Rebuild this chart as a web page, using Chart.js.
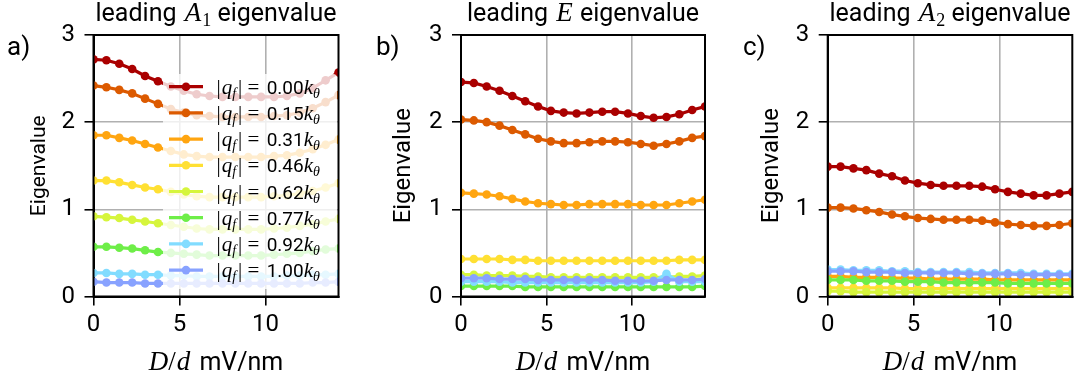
<!DOCTYPE html>
<html>
<head>
<meta charset="utf-8">
<script src="https://cdn.jsdelivr.net/npm/chart.js@4"></script>
<style>
  body { margin: 0; background: #fff; }
  .panel { position: absolute; top: 0; }
</style>
</head>
<body>
<canvas id="panelA" class="panel" style="left:0px" width="360" height="384"></canvas>
<canvas id="panelE" class="panel" style="left:360px" width="360" height="384"></canvas>
<canvas id="panelA2" class="panel" style="left:720px" width="361" height="384"></canvas>
<script>
// D/d sample points (mV/nm)
const xVals = [0, 0.75, 1.5, 2.25, 3, 3.75, 4.5, 5.25, 6, 6.75, 7.5, 8.25, 9, 9.75, 10.5, 11.25, 12, 12.75, 13.5, 14.25];
const xTicks = [0, 5, 10];
const yTicks = [0, 1, 2, 3];
const qLabels = ['0.00', '0.15', '0.31', '0.46', '0.62', '0.77', '0.92', '1.00'];
const colors = ['#aa0000', '#dc5a00', '#ffa510', '#ffe033', '#d6f53c', '#6eee48', '#82dcff', '#88a2ff'];

// leading A1 eigenvalue
const a1_000 = [2.72, 2.71, 2.67, 2.61, 2.53, 2.47, 2.41, 2.36, 2.32, 2.30, 2.29, 2.29, 2.29, 2.29, 2.29, 2.30, 2.33, 2.39, 2.48, 2.57];
const a1_015 = [2.42, 2.40, 2.37, 2.33, 2.27, 2.21, 2.15, 2.11, 2.08, 2.07, 2.06, 2.06, 2.06, 2.06, 2.07, 2.08, 2.11, 2.16, 2.23, 2.31];
const a1_031 = [1.85, 1.85, 1.82, 1.79, 1.75, 1.71, 1.67, 1.63, 1.61, 1.60, 1.60, 1.60, 1.60, 1.60, 1.61, 1.62, 1.65, 1.69, 1.74, 1.80];
const a1_046 = [1.33, 1.33, 1.31, 1.28, 1.25, 1.23, 1.20, 1.17, 1.15, 1.14, 1.14, 1.14, 1.14, 1.14, 1.15, 1.16, 1.18, 1.21, 1.25, 1.30];
const a1_062 = [0.92, 0.91, 0.90, 0.88, 0.86, 0.84, 0.82, 0.80, 0.78, 0.77, 0.77, 0.77, 0.77, 0.77, 0.78, 0.79, 0.81, 0.83, 0.86, 0.89];
const a1_077 = [0.57, 0.57, 0.56, 0.55, 0.53, 0.51, 0.50, 0.49, 0.48, 0.47, 0.47, 0.47, 0.47, 0.47, 0.48, 0.49, 0.50, 0.52, 0.54, 0.55];
const a1_092 = [0.27, 0.27, 0.26, 0.26, 0.25, 0.25, 0.24, 0.24, 0.23, 0.23, 0.23, 0.23, 0.23, 0.23, 0.23, 0.24, 0.24, 0.25, 0.25, 0.26];
const a1_100 = [0.17, 0.16, 0.16, 0.16, 0.15, 0.15, 0.15, 0.15, 0.15, 0.15, 0.15, 0.15, 0.15, 0.15, 0.15, 0.15, 0.15, 0.16, 0.16, 0.17];

// leading E eigenvalue
const e_000 = [2.46, 2.45, 2.41, 2.36, 2.30, 2.24, 2.18, 2.13, 2.11, 2.10, 2.11, 2.12, 2.12, 2.10, 2.07, 2.05, 2.06, 2.09, 2.14, 2.18];
const e_015 = [2.03, 2.02, 2.00, 1.96, 1.91, 1.86, 1.81, 1.78, 1.76, 1.76, 1.77, 1.78, 1.78, 1.77, 1.75, 1.73, 1.75, 1.78, 1.82, 1.84];
const e_031 = [1.19, 1.18, 1.17, 1.15, 1.12, 1.09, 1.07, 1.06, 1.05, 1.05, 1.06, 1.06, 1.06, 1.06, 1.05, 1.05, 1.05, 1.07, 1.09, 1.11];
const e_046 = [0.43, 0.43, 0.43, 0.43, 0.42, 0.42, 0.41, 0.41, 0.41, 0.41, 0.41, 0.41, 0.41, 0.41, 0.41, 0.41, 0.41, 0.42, 0.42, 0.42];
const e_062 = [0.25, 0.25, 0.24, 0.24, 0.24, 0.23, 0.23, 0.22, 0.22, 0.22, 0.22, 0.22, 0.22, 0.22, 0.22, 0.22, 0.22, 0.23, 0.23, 0.24];
const e_077 = [0.12, 0.12, 0.12, 0.12, 0.12, 0.11, 0.11, 0.11, 0.11, 0.11, 0.11, 0.11, 0.11, 0.11, 0.11, 0.11, 0.11, 0.11, 0.11, 0.12];
const e_092 = [0.17, 0.17, 0.17, 0.17, 0.16, 0.16, 0.16, 0.16, 0.16, 0.16, 0.16, 0.16, 0.16, 0.16, 0.16, 0.17, 0.26, 0.17, 0.17, 0.17];
const e_100 = [0.21, 0.21, 0.21, 0.20, 0.20, 0.20, 0.19, 0.19, 0.19, 0.19, 0.19, 0.19, 0.18, 0.18, 0.18, 0.18, 0.19, 0.19, 0.19, 0.20];

// leading A2 eigenvalue
const a2_000 = [1.49, 1.49, 1.47, 1.45, 1.41, 1.38, 1.33, 1.30, 1.28, 1.27, 1.27, 1.27, 1.26, 1.23, 1.20, 1.18, 1.16, 1.16, 1.18, 1.20];
const a2_015 = [1.02, 1.02, 1.01, 0.99, 0.97, 0.94, 0.92, 0.90, 0.89, 0.88, 0.88, 0.88, 0.87, 0.85, 0.83, 0.82, 0.81, 0.81, 0.82, 0.84];
const a2_031 = [0.23, 0.23, 0.22, 0.22, 0.22, 0.21, 0.21, 0.21, 0.20, 0.20, 0.20, 0.20, 0.20, 0.19, 0.19, 0.19, 0.19, 0.19, 0.19, 0.19];
const a2_046 = [0.10, 0.10, 0.10, 0.10, 0.10, 0.10, 0.09, 0.09, 0.09, 0.09, 0.09, 0.09, 0.09, 0.09, 0.09, 0.09, 0.09, 0.09, 0.09, 0.09];
const a2_062 = [0.06, 0.06, 0.05, 0.05, 0.05, 0.05, 0.05, 0.05, 0.05, 0.05, 0.05, 0.05, 0.05, 0.05, 0.05, 0.05, 0.05, 0.05, 0.05, 0.05];
const a2_077 = [0.19, 0.19, 0.19, 0.18, 0.18, 0.18, 0.17, 0.17, 0.17, 0.16, 0.16, 0.16, 0.16, 0.16, 0.15, 0.15, 0.15, 0.15, 0.15, 0.15];
const a2_092 = [0.31, 0.31, 0.30, 0.30, 0.30, 0.29, 0.29, 0.28, 0.28, 0.28, 0.28, 0.28, 0.27, 0.27, 0.27, 0.27, 0.26, 0.26, 0.26, 0.26];
const a2_100 = [0.29, 0.29, 0.29, 0.28, 0.28, 0.28, 0.27, 0.27, 0.27, 0.27, 0.27, 0.26, 0.26, 0.26, 0.26, 0.25, 0.25, 0.25, 0.25, 0.25];

const SANS = 'Roboto, "DejaVu Sans", sans-serif';
const SERIF = '"Liberation Serif", "DejaVu Serif", serif';

// draws a list of text runs (mixed fonts, sub/superscripts) as one line
function drawRuns(ctx, runs, x, y, align) {
    ctx.save();
    ctx.textBaseline = 'alphabetic';
    ctx.textAlign = 'left';
    let total = 0;
    runs.forEach(r => { ctx.font = r.f; r.w = ctx.measureText(r.t).width + (r.gap || 0); total += r.w; });
    let cx = align === 'center' ? x - total / 2 : x;
    runs.forEach(r => {
        ctx.font = r.f;
        ctx.fillStyle = '#000';
        ctx.fillText(r.t, cx, y + (r.dy || 0));
        cx += r.w;
    });
    ctx.restore();
}

const xLabelRuns = [
    { t: 'D', f: `italic 27px ${SERIF}` },
    { t: '/', f: `27px ${SERIF}`, gap: 1 },
    { t: 'd', f: `italic 27px ${SERIF}`, gap: 3 },
    { t: ' mV/nm', f: `25px ${SANS}` }
];

function titleRuns(sym, sub) {
    const runs = [{ t: 'leading ', f: `25px ${SANS}`, gap: 2 }, { t: sym, f: `italic 27px ${SERIF}`, gap: 1 }];
    if (sub) runs.push({ t: sub, f: `18px ${SERIF}`, dy: 5 });
    runs.push({ t: ' eigenvalue', f: `25px ${SANS}` });
    return runs;
}

function legendRuns(q) {
    return [
        { t: '|', f: `21px ${SERIF}`, gap: 1 },
        { t: 'q', f: `italic 21px ${SERIF}` },
        { t: 'f', f: `italic 14px ${SERIF}`, dy: 4, gap: 2 },
        { t: '|', f: `21px ${SERIF}` },
        { t: ' = ', f: `21px ${SERIF}`, gap: 2 },
        { t: q, f: `19px ${SANS}` },
        { t: 'k', f: `italic 21px ${SERIF}` },
        { t: '\u03B8', f: `italic 14px ${SERIF}`, dy: 4 }
    ];
}

function drawLegend(ctx) {
    ctx.save();
    ctx.fillStyle = 'rgba(255,255,255,0.8)';
    ctx.beginPath();
    ctx.roundRect(163, 74, 174, 215, 4);
    ctx.fill();
    qLabels.forEach((q, i) => {
        const y = 86.7 + i * 26.2;
        ctx.strokeStyle = colors[i];
        ctx.lineWidth = 3.2;
        ctx.beginPath();
        ctx.moveTo(169, y);
        ctx.lineTo(203, y);
        ctx.stroke();
        ctx.fillStyle = colors[i];
        ctx.beginPath();
        ctx.arc(186, y, 4.3, 0, Math.PI * 2);
        ctx.fill();
        drawRuns(ctx, legendRuns(q), 216.5, y + 7, 'left');
    });
    ctx.restore();
}

function makePanel(id, series, cfg) {
    const decor = {
        id: 'decor',
        afterDatasetsDraw(chart) {
            if (cfg.legend) drawLegend(chart.ctx);
        },
        afterDraw(chart) {
            const ctx = chart.ctx;
            const a = chart.chartArea;
            const cxMid = (a.left + a.right) / 2;
            ctx.save();
            ctx.strokeStyle = '#000';
            ctx.lineWidth = 2;
            ctx.strokeRect(a.left, a.top, a.right - a.left, a.bottom - a.top);

            drawRuns(ctx, cfg.title, cxMid, 21, 'center');
            drawRuns(ctx, xLabelRuns, cxMid, 370, 'center');

            ctx.fillStyle = '#000';
            ctx.font = `26px ${SANS}`;
            ctx.textAlign = 'left';
            ctx.textBaseline = 'alphabetic';
            ctx.fillText(cfg.letter, cfg.letterX, 55);

            ctx.translate(cfg.yLabelX, (a.top + a.bottom) / 2);
            ctx.rotate(-Math.PI / 2);
            ctx.font = `${cfg.yLabelSize}px ${SANS}`;
            ctx.textAlign = 'center';
            ctx.textBaseline = 'middle';
            ctx.fillText('Eigenvalue', 0, 0);
            ctx.restore();
        }
    };

    const axisGrid = { color: '#b0b0b0', lineWidth: 1.6, tickColor: '#000', tickLength: 9, tickWidth: 1.6 };

    new Chart(document.getElementById(id), {
        type: 'line',
        data: {
            datasets: series.map((ys, i) => ({
                data: xVals.map((x, j) => ({ x: x, y: ys[j] })),
                borderColor: colors[i],
                backgroundColor: colors[i],
                borderWidth: 3.2,
                pointRadius: 4.3,
                pointBorderWidth: 0,
                pointHoverRadius: 4.3,
                tension: 0,
                clip: 0,
                order: series.length - i
            }))
        },
        options: {
            responsive: false,
            animation: false,
            events: [],
            layout: {
                autoPadding: false,
                padding: { left: cfg.padLeft, right: cfg.padRight, top: 35, bottom: 27.5 }
            },
            plugins: { legend: { display: false }, tooltip: { enabled: false } },
            scales: {
                x: {
                    type: 'linear',
                    min: 0,
                    max: 14.25,
                    afterBuildTicks: s => { s.ticks = xTicks.map(v => ({ value: v })); },
                    afterFit: s => { s.height = 60; },
                    grid: axisGrid,
                    border: { color: '#000', width: 2 },
                    ticks: { font: { family: SANS, size: 24 }, color: '#000', padding: 5, maxRotation: 0 }
                },
                y: {
                    type: 'linear',
                    min: 0,
                    max: 3,
                    afterBuildTicks: s => { s.ticks = yTicks.map(v => ({ value: v })); },
                    afterFit: s => { s.width = 40; },
                    grid: axisGrid,
                    border: { color: '#000', width: 2 },
                    ticks: { font: { family: SANS, size: 24 }, color: '#000', padding: 9.5 }
                }
            }
        },
        plugins: [decor]
    });
}

makePanel('panelA', [a1_000, a1_015, a1_031, a1_046, a1_062, a1_077, a1_092, a1_100], {
    title: titleRuns('A', '1'), letter: 'a)', letterX: 7,
    yLabelX: 40, yLabelSize: 21, padLeft: 53.5, padRight: 21.5, legend: true
});
makePanel('panelE', [e_000, e_015, e_031, e_046, e_062, e_077, e_092, e_100], {
    title: titleRuns('E', ''), letter: 'b)', letterX: 16,
    yLabelX: 44, yLabelSize: 24, padLeft: 61, padRight: 15, legend: false
});
makePanel('panelA2', [a2_000, a2_015, a2_031, a2_046, a2_062, a2_077, a2_092, a2_100], {
    title: titleRuns('A', '2'), letter: 'c)', letterX: 23,
    yLabelX: 52, yLabelSize: 24, padLeft: 67.7, padRight: 8.7, legend: false
});
</script>
</body>
</html>
